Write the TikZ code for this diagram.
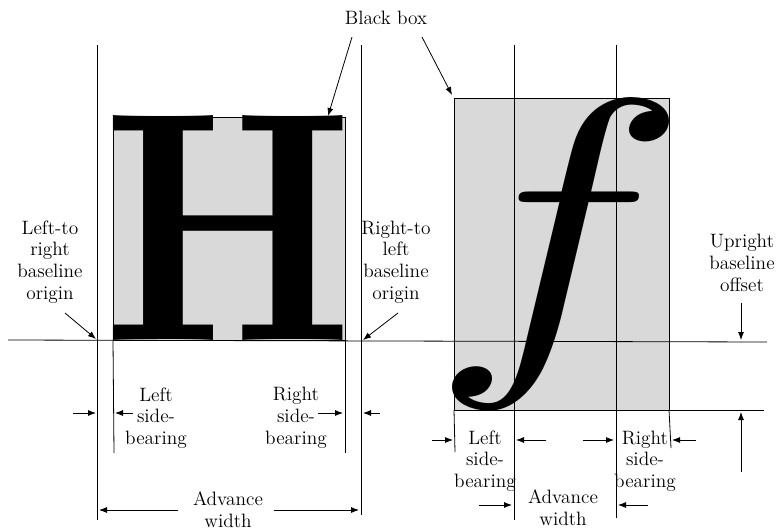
\documentclass[tikz,border=0pt]{standalone}
\usepackage{graphicx}
\usetikzlibrary{arrows.meta}
\definecolor{boxgray}{HTML}{D9D9D9}
\tikzset{
  lbl/.style={align=center,inner sep=0pt,font=\fontsize{14.5}{16.3}\selectfont},
  guide/.style={line width=0.6pt},
  dim/.style={-{Latex[length=6pt,width=4.5pt]},line width=0.6pt}
}
\begin{document}
\begin{tikzpicture}[x=0.75pt,y=-0.75pt]
\useasboundingbox (0,0) rectangle (780,531);

% glyph boxes
\filldraw[fill=boxgray,guide] (113,117) rectangle (345,340);
\filldraw[fill=boxgray,guide] (454,98) rectangle (669,410);
\node[inner sep=0pt,anchor=south west] (hglyph) at (102,341) {\scalebox{20.96}[24.6]{\bfseries H}};
\node[inner sep=0pt,anchor=base west] (fglyph) at (429,340) {\scalebox{32.6}[25.85]{$f$}};

% guide lines
\draw[guide] (8,340) -- (767,342);
\draw[guide] (454,410) -- (764,410);
\draw[guide] (97,45) -- (97,520);
\draw[guide] (361,45) -- (361,515);
\draw[guide] (113,340) -- (114,453);
\draw[guide] (345,340) -- (345,453);
\draw[guide] (514,45) -- (514,520);
\draw[guide] (616,45) -- (616,518);
\draw[guide] (454,410) -- (455,452);
\draw[guide] (669,410) -- (671,448);

% labels
\node[lbl] (blackbox) at (386,18) {Black box};
\node[lbl] (ltr) at (50,262) {Left-to\\right\\baseline\\origin};
\node[lbl] (rtl) at (396,262) {Right-to\\left\\baseline\\origin};
\node[lbl] (hlsb) at (156,418) {Left\\side-\\bearing};
\node[lbl] (hrsb) at (296,418) {Right\\side-\\bearing};
\node[lbl] (hadv) at (228,510) {Advance\\width};
\node[lbl] (flsb) at (485,461) {Left\\side-\\bearing};
\node[lbl] (frsb) at (645,461) {Right\\side-\\bearing};
\node[lbl] (fadv) at (563,508) {Advance\\width};
\node[lbl] (upoff) at (742,263) {Upright\\baseline\\offset};

% arrow ends
\coordinate (hboxtop) at (328,116);
\coordinate (fboxtop) at (452,95);
\coordinate (ltrorg) at (96,339);
\coordinate (rtlorg) at (363,340);
\draw[dim] (352,37) -- (hboxtop);
\draw[dim] (422,37) -- (fboxtop);
\draw[dim] (65,313) -- (ltrorg);
\draw[dim] (398,313) -- (rtlorg);

% side bearings and advance, H
\draw[dim] (73,413) -- (96,413);
\draw[dim] (133,413) -- (115,413);
\draw[dim] (318,413) -- (343,413);
\draw[dim] (380,413) -- (363,413);
\draw[dim] (178,510) -- (99,510);
\draw[dim] (274,510) -- (359,510);

% side bearings and advance, f
\draw[dim] (432,440) -- (453,440);
\draw[dim] (546,440) -- (516,440);
\draw[dim] (583,440) -- (614,440);
\draw[dim] (696,440) -- (672,440);
\draw[dim] (479,505) -- (512,505);
\draw[dim] (648,505) -- (618,505);

% upright offset
\draw[dim] (741,303) -- (741,340);
\draw[dim] (741,472) -- (741,412);
\end{tikzpicture}
\end{document}
